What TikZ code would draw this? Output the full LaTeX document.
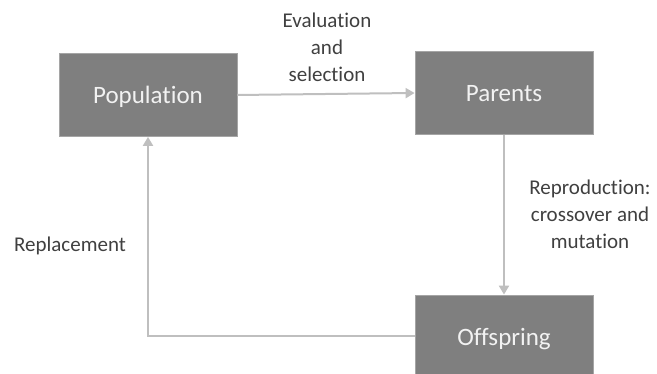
\documentclass[tikz,border=0pt]{standalone}
\usepackage{fontspec}
\setmainfont[Ligatures=NoCommon]{Carlito}
\usetikzlibrary{arrows.meta}
\definecolor{boxfill}{HTML}{7F7F7F}
\definecolor{boxline}{HTML}{A5A5A5}
\definecolor{conn}{HTML}{BFBFBF}
\definecolor{lbl}{HTML}{404040}
\tikzset{
  stagebox/.style={draw=boxline, line width=0.8pt, fill=boxfill, minimum width=178pt, minimum height=83pt, inner sep=0pt, text depth=0pt, text=white!95!black, font=\fontsize{25}{30}\selectfont},
  conline/.style={draw=conn, line width=2pt, -{Triangle[length=9pt,width=10pt]}},
  edgelabel/.style={text=lbl, align=center, inner sep=0pt, font=\fontsize{21}{27}\selectfont}
}
\begin{document}
\begin{tikzpicture}[x=1pt,y=1pt]
\useasboundingbox (0,0) rectangle (657,374);
\begin{scope}
\clip (0,0) rectangle (657,374);
\node[stagebox] (pop) at (148,279) {Population};
\node[stagebox] (par) at (504,281) {Parents};
\node[stagebox] (off) at (504,37.5) {Offspring};
\coordinate (corner) at (148,37.5);
\draw[conline] (pop.east) -- (par.west);
\draw[conline] (par.south) -- (off.north);
\draw[conline] (off.west) -- (corner) -- (pop.south);
\end{scope}
\node[edgelabel] (evl) at (327,327) {Evaluation\\and\\selection};
\node[edgelabel] (rep) at (590,160) {Reproduction:\\crossover and\\mutation};
\node[edgelabel, anchor=base] (rpl) at (70,122) {Replacement};
\end{tikzpicture}
\end{document}
